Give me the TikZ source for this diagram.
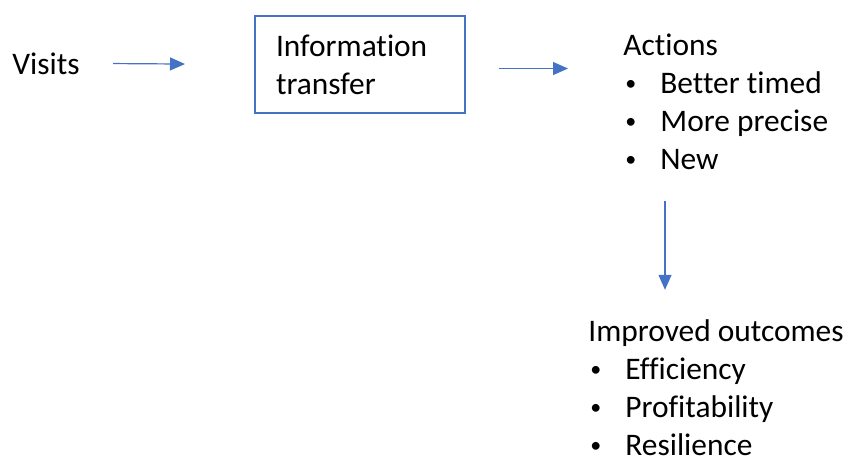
\documentclass[tikz,border=0pt]{standalone}
\usepackage{fontspec}
\setmainfont{Carlito}[Ligatures=NoCommon]
\usetikzlibrary{arrows.meta,positioning}
\definecolor{officeblue}{HTML}{4472C4}
\newcommand{\bitem}[1]{\makebox[18.5pt][l]{\hspace{1pt}\raisebox{1.5pt}{\fontsize{11pt}{11pt}\selectfont\textbullet}}#1}

\begin{document}
\begin{tikzpicture}[x=0.5pt,y=-0.5pt,
  every node/.style={font=\fontsize{15.7pt}{19pt}\selectfont, inner sep=0pt},
  arr/.style={-{Triangle[length=7.5pt,width=6.5pt]}, officeblue, line width=0.6pt},
  infobox/.style={draw=officeblue, line width=1pt, text width=84pt,
    inner xsep=10.5pt, minimum height=48.5pt, align=left},
  list/.style={align=left, anchor=base west}]
 \useasboundingbox (0,0) rectangle (849,463);
 \node[anchor=base west] (visits) at (12,74) {Visits};
 \node[infobox, anchor=north west] (info) at (254,15) {Information\\transfer};
 % base anchor of a list is the baseline of its last line
 \node[list] (actions) at (623,169)
   {Actions\\\bitem{Better timed}\\\bitem{More precise}\\\bitem{New}};
 \node[list] (outcomes) at (588,455)
   {Improved outcomes\\\bitem{Efficiency}\\\bitem{Profitability}\\\bitem{Resilience}};

 \draw[arr, shorten <=16.5pt, shorten >=34.5pt] (visits.east) -- (info.west);
 \draw[arr, shorten <=16.5pt, shorten >=27.5pt]
   ([yshift=-2pt]info.east) -- ([yshift=-2pt]info.east -| actions.west);
 \draw[arr, shorten <=15.5pt, shorten >=14.5pt]
   ([xshift=21pt]actions.south west) -- ([xshift=21pt]actions.south west |- outcomes.north);
\end{tikzpicture}
\end{document}
